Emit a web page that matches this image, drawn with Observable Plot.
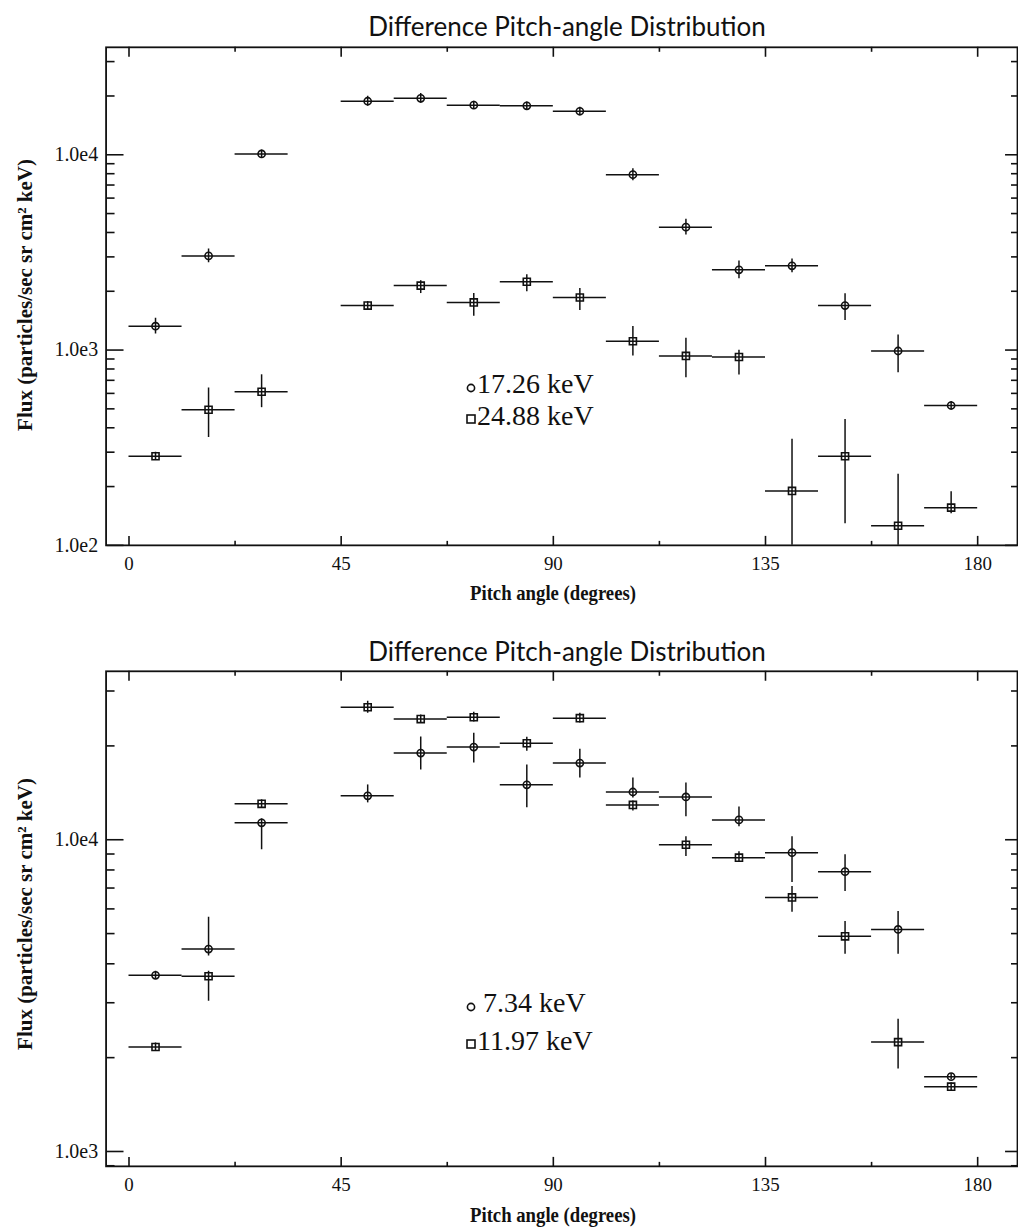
<!DOCTYPE html>
<html><head><meta charset="utf-8">
<script src="https://cdn.jsdelivr.net/npm/d3@7"></script>
<script src="https://cdn.jsdelivr.net/npm/@observablehq/plot@0.6"></script>
<style>
html,body{margin:0;padding:0;background:#fff;overflow:hidden;}
#wrap{position:relative;width:1018px;height:1230px;overflow:hidden;}
#wrap svg.plot{position:absolute;left:0;}
#overlay{position:absolute;left:0;top:0;pointer-events:none;}
</style></head>
<body><div id="wrap"></div>
<script>
// ---- data ----
const pitchAngle = [5.625, 16.875, 28.125, 50.625, 61.875, 73.125, 84.375, 95.625, 106.875, 118.125, 129.375, 140.625, 151.875, 163.125, 174.375];
const binHalfWidth = 5.625;

// top panel, 17.26 keV (circles)
const fluxTopA = [1325, 3035, 10100, 18800, 19450, 17950, 17800, 16700, 7910, 4260, 2576, 2700, 1690, 989, 520];
const lowTopA  = [1207, 2797, 9637, 17740, 18350, 17130, 16990, 15940, 7370, 3880, 2320, 2490, 1418, 765, 496];
const highTopA = [1455, 3293, 10585, 19930, 20620, 18810, 18650, 17500, 8490, 4680, 2860, 2930, 1943, 1193, 545];
// top panel, 24.88 keV (squares)
const fluxTopB = [286, 495, 612, 1690, 2138, 1754, 2238, 1858, 1110, 933, 921, 190, 286, 126, 156];
const lowTopB  = [273, 357, 507, 1612, 1947, 1489, 1991, 1596, 932, 722, 746, 60, 129, 60, 145];
const highTopB = [300, 640, 747, 1771, 2266, 1949, 2428, 2064, 1322, 1151, 999, 349, 441, 231, 188];
// bottom panel, 7.34 keV (circles)
const fluxBotA = [3673, 4460, 11330, 13830, 18970, 19820, 15000, 17620, 14230, 13720, 11580, 9090, 7900, 5155, 1738];
const lowBotA  = [3566, 4236, 9287, 13130, 16740, 17620, 12670, 15770, 13620, 11850, 11000, 7290, 6820, 4290, 1700];
const highBotA = [3783, 5642, 11670, 14990, 21340, 21960, 17370, 19520, 15770, 15200, 12740, 10230, 8950, 5890, 1776];
// bottom panel, 11.97 keV (squares)
const fluxBotB = [2163, 3648, 13040, 26600, 24380, 24720, 20400, 24550, 12930, 9640, 8760, 6530, 4900, 2243, 1614];
const lowBotB  = [2100, 3035, 12660, 25450, 23670, 23840, 19230, 23670, 12370, 8830, 8450, 5850, 4290, 1838, 1570];
const highBotB = [2228, 3783, 13430, 27800, 25110, 25640, 21320, 25460, 13320, 10230, 9150, 7080, 5470, 2655, 1660];

const legendTop = ["17.26 keV", "24.88 keV"];
const legendBottom = ["7.34 keV", "11.97 keV"];
const chartTitle = "Difference Pitch-angle Distribution";
const xLabel = "Pitch angle (degrees)";
const yLabel = "Flux (particles/sec sr cm\u00B2 keV)";

const xMajorTicks = [0, 45, 90, 135, 180];
const xMinorTicks = [22.5, 67.5, 112.5, 157.5];
const yMajorTop = [1e2, 1e3, 1e4];
const yMajorBottom = [1e3, 1e4];

// ---- helpers ----
const SERIF = "'Liberation Serif', 'Times New Roman', serif";
const SANS = "Lato, 'Open Sans', sans-serif";
const W = 1022, ML = 106, MR = 1;
const FW = W - ML - MR; // frame width
function minorTicks(majors, domain) {
  const out = [];
  majors.concat([majors[0] / 10]).forEach(m => { for (let k = 2; k <= 9; k++) { const v = m * k; if (v > domain[0] && v < domain[1]) out.push(v); } });
  return out;
}
function rows(flux, lo, hi) {
  return flux.map((v, i) => ({x: pitchAngle[i], y: v, lo: lo[i], hi: hi[i]}));
}
function panel({seriesA, seriesB, yDomain, yMajor, marginTop, marginBottom, height}) {
  const FH = height - marginTop - marginBottom;
  const yMinor = minorTicks(yMajor, yDomain);
  const all = seriesA.concat(seriesB);
  const fmt = d => "1.0e" + Math.round(Math.log10(d));
  const empty = () => "";
  const sw = 1.5;
  const tk = {tickFormat: empty, label: null, strokeWidth: 1.6, stroke: "#111"};
  return Plot.plot({
    width: W, height, marginLeft: ML, marginRight: MR, marginTop, marginBottom,
    style: {background: "transparent", overflow: "visible"},
    x: {domain: [-4.86, 188.45], label: null},
    y: {type: "log", domain: yDomain, label: null},
    marks: [
      Plot.ruleY(all, {y: "y", x1: d => d.x - binHalfWidth, x2: d => d.x + binHalfWidth, stroke: "#111", strokeWidth: sw, clip: true}),
      Plot.ruleX(all, {x: "x", y1: "lo", y2: "hi", stroke: "#111", strokeWidth: sw, clip: true}),
      Plot.dot(seriesA, {x: "x", y: "y", symbol: "circle", r: 3.6, stroke: "#111", strokeWidth: 1.6, fill: "none"}),
      Plot.dot(seriesB, {x: "x", y: "y", symbol: "square", r: 4, stroke: "#111", strokeWidth: 1.6, fill: "none"}),
      Plot.frame({stroke: "#111", strokeWidth: 1.8}),
      // inward x ticks: bottom edge (drawn as top-anchored ticks shifted down), top edge (bottom-anchored shifted up)
      Plot.axisX({anchor: "top", ticks: xMajorTicks, tickSize: 10, dy: FH, ...tk}),
      Plot.axisX({anchor: "top", ticks: xMinorTicks, tickSize: 5, dy: FH, ...tk}),
      Plot.axisX({anchor: "bottom", ticks: xMajorTicks, tickSize: 10, dy: -FH, ...tk}),
      Plot.axisX({anchor: "bottom", ticks: xMinorTicks, tickSize: 5, dy: -FH, ...tk}),
      Plot.axisX({anchor: "bottom", ticks: xMajorTicks, tickSize: 0, tickPadding: 11, label: null, fontSize: 19, fontFamily: SERIF, fill: "#111"}),
      // inward y ticks: left edge and right edge
      Plot.axisY({anchor: "right", ticks: yMajor, tickSize: 17, dx: -FW, ...tk}),
      Plot.axisY({anchor: "right", ticks: yMinor, tickSize: 8, dx: -FW, ...tk}),
      Plot.axisY({anchor: "left", ticks: yMajor, tickSize: 12, dx: FW, ...tk}),
      Plot.axisY({anchor: "left", ticks: yMinor, tickSize: 6, dx: FW, ...tk}),
      Plot.axisY({anchor: "left", ticks: yMajor, tickSize: 0, tickPadding: 8, tickFormat: fmt, label: null, fontSize: 20, fontFamily: SERIF, fill: "#111"})
    ]
  });
}

const wrap = document.getElementById("wrap");
const top1 = panel({
  seriesA: rows(fluxTopA, lowTopA, highTopA), seriesB: rows(fluxTopB, lowTopB, highTopB),
  yDomain: [100, 35500], yMajor: yMajorTop, marginTop: 47, marginBottom: 63, height: 610
});
top1.classList.add("plot"); top1.style.top = "0px";
wrap.appendChild(top1);
const bot1 = panel({
  seriesA: rows(fluxBotA, lowBotA, highBotA), seriesB: rows(fluxBotB, lowBotB, highBotB),
  yDomain: [896, 34700], yMajor: yMajorBottom, marginTop: 51, marginBottom: 62, height: 610
});
bot1.classList.add("plot"); bot1.style.top = "620px";
wrap.appendChild(bot1);

// ---- titles, axis labels, legends ----
const ov = d3.select(wrap).append("svg").attr("id", "overlay").attr("width", 1018).attr("height", 1230);
[[36, 600, 295, legendTop, 388], [661, 1222, 914, legendBottom, 1007]].forEach(([ty, xy, yc, leg, ly], p) => {
  ov.append("text").attr("x", 567).attr("y", ty).attr("text-anchor", "middle")
    .style("font-family", SANS).style("font-size", "26px").style("fill", "#111").text(chartTitle);
  ov.append("text").attr("x", 553).attr("y", xy).attr("text-anchor", "middle")
    .attr("textLength", 166).attr("lengthAdjust", "spacingAndGlyphs")
    .style("font-family", SERIF).style("font-weight", "bold").style("font-size", "20px").style("fill", "#111").text(xLabel);
  ov.append("text").attr("transform", `translate(32,${yc}) rotate(-90)`).attr("text-anchor", "middle")
    .style("font-family", SERIF).style("font-weight", "bold").style("font-size", "21px").style("fill", "#111").text(yLabel);
  const gap = p === 0 ? 31 : 37;
  const tx = p === 0 ? [477, 477] : [483, 477];
  ov.append("circle").attr("cx", 471).attr("cy", ly).attr("r", 3.6).attr("fill", "none").attr("stroke", "#111").attr("stroke-width", 1.6);
  ov.append("rect").attr("x", 467).attr("y", ly + gap - 4).attr("width", 8).attr("height", 8).attr("fill", "none").attr("stroke", "#111").attr("stroke-width", 1.6);
  leg.forEach((t, i) => {
    ov.append("text").attr("x", tx[i]).attr("y", ly + 5 + i * (gap + 1))
      .style("font-family", SERIF).style("font-size", "28px").style("fill", "#111").text(t);
  });
});
</script>
</body></html>
